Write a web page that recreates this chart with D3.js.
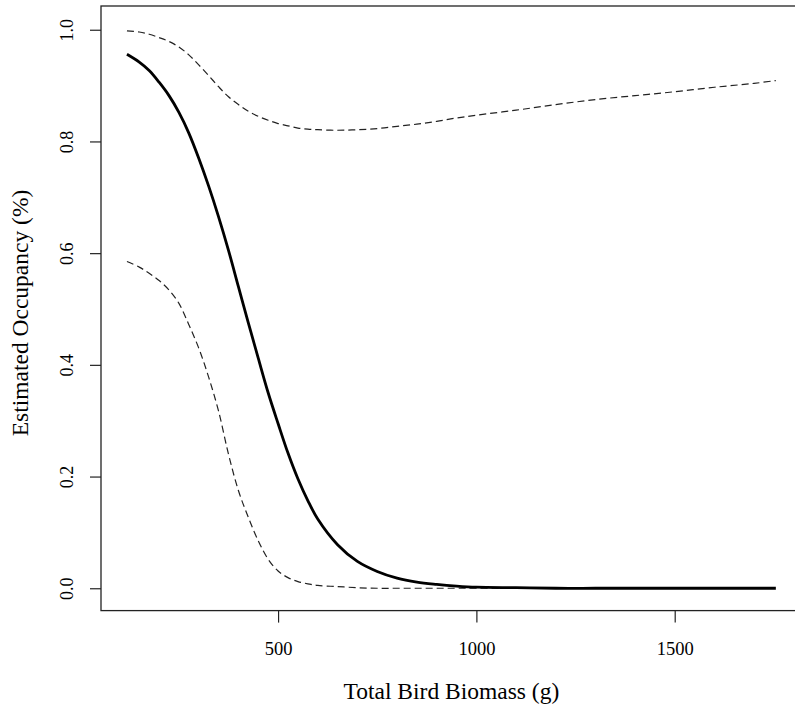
<!DOCTYPE html>
<html>
<head>
<meta charset="utf-8">
<script src="https://cdn.jsdelivr.net/npm/d3@7"></script>
<style>
  html, body { margin: 0; padding: 0; background: #fff; }
  svg { display: block; }
  text { font-family: "Liberation Serif", "DejaVu Serif", serif; fill: #000; }
</style>
</head>
<body>
<svg id="chart" width="795" height="715"></svg>
<script>
// Total bird biomass (g) at which occupancy was predicted
const biomass = [119, 150, 175, 200, 225, 250, 275, 300, 325, 350, 375, 400, 425, 450, 475,
  500, 525, 550, 575, 600, 650, 700, 750, 800, 850, 900, 950, 1000, 1100, 1200, 1300,
  1400, 1500, 1600, 1700, 1755];

// Estimated occupancy (mean prediction)
const occupancy = [0.956, 0.942, 0.927, 0.906, 0.882, 0.852, 0.815, 0.770, 0.720, 0.665,
  0.605, 0.540, 0.475, 0.412, 0.350, 0.295, 0.242, 0.196, 0.157, 0.124, 0.078, 0.048,
  0.030, 0.018, 0.011, 0.007, 0.004, 0.002, 0.001, 0, 0, 0, 0, 0, 0, 0];

// Lower confidence bound
const lowerCI = [0.585, 0.575, 0.564, 0.551, 0.534, 0.510, 0.472, 0.430, 0.378, 0.317,
  0.240, 0.175, 0.127, 0.085, 0.052, 0.031, 0.019, 0.012, 0.008, 0.005, 0.003, 0.001,
  0, 0, 0, 0, 0, 0, 0, 0, 0, 0, 0, 0, 0, 0];

// Upper confidence bound
const upperCI = [0.998, 0.996, 0.992, 0.986, 0.979, 0.969, 0.955, 0.937, 0.918, 0.898,
  0.880, 0.866, 0.854, 0.845, 0.838, 0.832, 0.828, 0.824, 0.822, 0.821, 0.820, 0.821,
  0.823, 0.827, 0.831, 0.836, 0.842, 0.847, 0.856, 0.866, 0.875, 0.882, 0.889, 0.897,
  0.904, 0.909];

const xTicks = [500, 1000, 1500];
const yTicks = [0.0, 0.2, 0.4, 0.6, 0.8, 1.0];
const xTitle = "Total Bird Biomass (g)";
const yTitle = "Estimated Occupancy (%)";

// Axis limits padded by 4% of the data range on each side
const xExtent = d3.extent(biomass);
const xPad = (xExtent[1] - xExtent[0]) * 0.04;
const xLim = [xExtent[0] - xPad, xExtent[1] + xPad];
const yLim = [-0.04, 1.04];

const plot = { left: 101, right: 801.8, top: 7.4, bottom: 610.6 };

const svg = d3.select("#chart");
const x = d3.scaleLinear().domain(xLim).range([plot.left, plot.right]);
const y = d3.scaleLinear().domain(yLim).range([plot.bottom, plot.top]);

// Curves: upper and lower bounds dashed, mean prediction solid
const series = [
  { values: upperCI, width: 1.2, dash: "7,4", color: "#222" },
  { values: lowerCI, width: 1.2, dash: "7,4", color: "#222" },
  { values: occupancy, width: 2.8, dash: null, color: "#000" }
];

const line = d3.line()
  .x(d => x(d[0]))
  .y(d => y(d[1]))
  .curve(d3.curveCatmullRom.alpha(0.5));

series.forEach(s => {
  svg.append("path")
    .datum(biomass.map((b, i) => [b, s.values[i]]))
    .attr("d", line)
    .attr("fill", "none")
    .attr("stroke", s.color)
    .attr("stroke-width", s.width)
    .attr("stroke-dasharray", s.dash)
    .attr("stroke-linejoin", "round");
});

// Plot frame
svg.append("rect")
  .attr("x", plot.left)
  .attr("y", plot.top - 1.4)
  .attr("width", plot.right - plot.left)
  .attr("height", plot.bottom - plot.top + 1.4)
  .attr("fill", "none")
  .attr("stroke", "#222")
  .attr("stroke-width", 1.3);

// X axis
const xAxis = d3.axisBottom(x).tickValues(xTicks).tickSize(12).tickPadding(19)
  .tickFormat(d3.format("d"));
const gx = svg.append("g").attr("transform", `translate(0,${plot.bottom})`).call(xAxis);
gx.select(".domain").remove();
gx.selectAll("line").attr("stroke", "#222").attr("stroke-width", 1.2);
gx.selectAll("text")
  .style("font-family", '"Liberation Serif", serif')
  .style("font-size", "18.5px")
  .attr("fill", "#000");

// Y axis with labels rotated parallel to the axis
const yAxis = d3.axisLeft(y).tickValues(yTicks).tickSize(11)
  .tickFormat(d3.format(".1f"));
const gy = svg.append("g").attr("transform", `translate(${plot.left},0)`).call(yAxis);
gy.select(".domain").remove();
gy.selectAll("line").attr("stroke", "#222").attr("stroke-width", 1.2);
gy.selectAll("text")
  .attr("x", null).attr("dy", null)
  .attr("text-anchor", "middle")
  .attr("transform", `translate(${73 - plot.left},0) rotate(-90)`)
  .style("font-family", '"Liberation Serif", serif')
  .style("font-size", "18px")
  .attr("fill", "#000");

// Axis titles
svg.append("text")
  .attr("x", (plot.left + plot.right) / 2)
  .attr("y", 699)
  .attr("text-anchor", "middle")
  .style("font-size", "23.5px")
  .text(xTitle);

svg.append("text")
  .attr("transform", `translate(28,${(plot.top + plot.bottom) / 2 + 4}) rotate(-90)`)
  .attr("text-anchor", "middle")
  .style("font-size", "23.5px")
  .text(yTitle);
</script>
</body>
</html>
